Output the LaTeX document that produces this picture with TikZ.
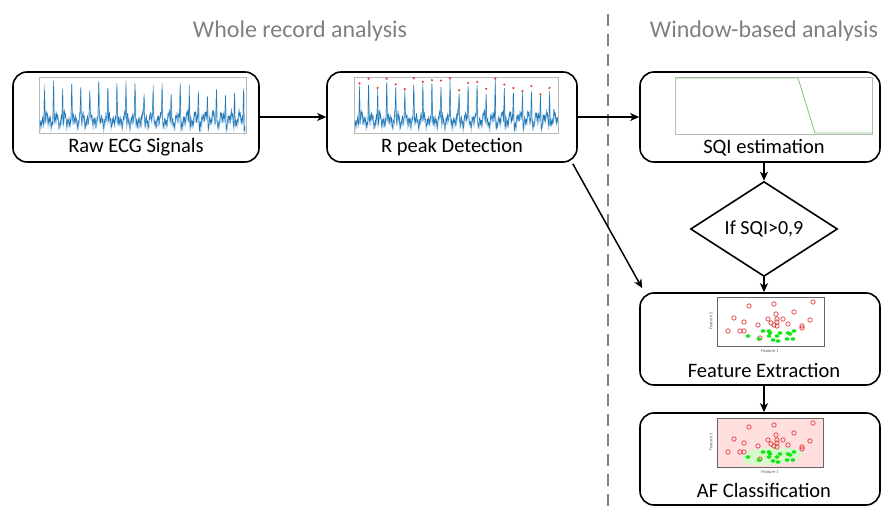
\documentclass[tikz,border=0pt]{standalone}
\usepackage{fontspec}
\setmainfont{Carlito}
\usetikzlibrary{shapes.geometric,arrows.meta,calc}
\definecolor{ecgblue}{RGB}{31,119,180}
\definecolor{ecglight}{RGB}{170,205,235}
\definecolor{titlegray}{RGB}{128,128,128}
\definecolor{sqigreen}{RGB}{120,200,110}
\definecolor{ptred}{RGB}{225,60,60}
\definecolor{ptgreen}{RGB}{20,230,20}
\definecolor{pinkbg}{RGB}{255,222,222}
\definecolor{blobgreen}{RGB}{215,250,205}
\newcommand{\redpts}{(749,306),(774,304),(813,302),(794,312),(734,318),(776,314),(768,319),(777,319),(783,319),(744,322),(771,323),(777,322),(788,324),(810,320),(758,325),(774,325),(777,326),(802,326),(802,328),(728,331),(740,331),(744,331),(760,338)}
\newcommand{\greenpts}{(763,331),(769,331),(770,333),(780,333),(788,333),(794,331),(790,334),(748,336),(769,336),(777,336),(759,339),(773,340),(778,341),(787,339),(793,339)}
\begin{document}
\begin{tikzpicture}[x=1pt,y=-1pt,
  declare function={ecg(\t)=4*sin(\t*41)+3*sin(mod(\t,3.71134)*97+20)+2.5*sin(mod(\t,1.54506)*233)+1.8*sin(mod(\t,0.696325)*517)-(34+4*sin(\t*13))*max(0,1-abs(mod(\t,9.05)-4.5)/0.6)+6*max(0,1-abs(mod(\t,9.05)-5.5)/0.6);
  wob(\t)=2*sin(mod(\t,1.2)*300);},
  box/.style={draw, line width=1.6pt, rounded corners=14pt, inner sep=0pt},
  lbl/.style={font=\fontsize{20.5}{22}\selectfont, inner sep=0pt},
  ttl/.style={font=\fontsize{24}{27}\selectfont, text=titlegray, inner sep=0pt},
  arr/.style={line width=1.5pt, -{Stealth[length=9pt,width=8pt,inset=2.5pt]}},
  frm/.style={draw=gray!55, line width=0.4pt},
  tiny/.style={font=\fontsize{4.5}{5}\selectfont, text=gray!70!black, inner sep=0pt}]
\useasboundingbox (0,0) rectangle (881,510);

% titles and separator
\node[ttl] (t1) at (300,31) {Whole record analysis};
\node[ttl] (t2) at (764,31) {Window-based analysis};
\draw[titlegray, line width=2.6pt, dash pattern=on 12pt off 8pt] (608,14) -- (608,510);

% boxes
\node[box, minimum width=246, minimum height=90] (raw) at (136,117) {};
\node[box, minimum width=250, minimum height=90] (rpeak) at (452,117) {};
\node[box, minimum width=240, minimum height=90] (sqi) at (760,117) {};
\node[draw, line width=1.6pt, diamond, minimum width=147, minimum height=71, inner sep=0pt, font=\fontsize{20}{22}\selectfont] (dia) at (764,229) {If SQI>0,9};
\node[box, minimum width=240, minimum height=92] (feat) at (760,339) {};
\node[box, minimum width=240, minimum height=92] (afc) at (760,459) {};

% labels
\node[lbl] (rawt) at (136,147) {Raw ECG Signals};
\node[lbl] (rpeakt) at (452,147) {R peak Detection};
\node[lbl] (sqit) at (764,148) {SQI estimation};
\node[lbl] (featt) at (764,370) {Feature Extraction};
\node[lbl] (afct) at (764,490) {AF Classification};

% raw ECG plot
\draw[frm] (39,77) rectangle (246,133);
\draw[ecglight, line width=1pt] plot[domain=0:205, samples=500] ({40+\x}, {121+ecg(\x)+wob(\x)});
\draw[ecgblue, line width=0.45pt] plot[domain=0:205, samples=800] ({40+\x}, {119+ecg(\x)});

% R peak plot
\draw[frm] (354,77) rectangle (558,133);
\draw[ecglight, line width=1pt] plot[domain=0:203, samples=500] ({355+\x}, {121+ecg(\x)+wob(\x)});
\draw[ecgblue, line width=0.45pt] plot[domain=0:203, samples=800] ({355+\x}, {119+ecg(\x)});
\foreach \k in {0,...,21} {
  \pgfmathsetmacro\tp{9.05*\k+4.5}
  \fill[ptred] ({355+\tp}, {119+ecg(\tp)}) circle (1.2);
}

% SQI plot
\draw[frm] (675,77) rectangle (872,134);
\draw[sqigreen, line width=0.8pt] (675,78) -- (798,78) -- (815,133) -- (872,133);

% feature plot
\draw[line width=0.6pt, draw=gray!80!black] (717,297) rectangle (824,346);
\foreach \p in \redpts { \draw[ptred, line width=0.7pt] \p circle (2.2); }
\foreach \p in \greenpts { \fill[ptgreen] \p ellipse (2.4 and 1.8); }
\node[tiny] (f1a) at (770,351) {Feature 1};
\node[tiny, rotate=90] (f2a) at (711,321) {Feature 2};

% classification plot
\begin{scope}[shift={(0,121)}]
\fill[pinkbg] (717,297) rectangle (823,346);
\fill[blobgreen] (742,336) .. controls (745,325) and (790,324) .. (802,330) .. controls (806,342) and (770,346) .. (745,343) -- cycle;
\draw[line width=0.6pt, draw=gray!80!black] (717,297) rectangle (823,346);
\foreach \p in \redpts { \draw[ptred, line width=0.7pt] \p circle (2.2); }
\foreach \p in \greenpts { \fill[ptgreen] \p ellipse (2.4 and 1.8); }
\node[tiny] (f1b) at (770,351) {Feature 1};
\node[tiny, rotate=90] (f2b) at (711,321) {Feature 2};
\end{scope}

% connectors
\draw[arr] (raw.east) -- (rpeak.west);
\draw[arr] (rpeak.east) -- (sqi.west);
\draw[arr] (sqi.south -| dia.north) -- (dia.north);
\draw[arr] (dia.south) -- (feat.north -| dia.south);
\draw[arr] (feat.south -| dia.south) -- (afc.north -| dia.south);
\draw[arr] ($(rpeak.south east)+(-5,1)$) -- ($(feat.north west)+(3,-4)$);
\end{tikzpicture}
\end{document}
